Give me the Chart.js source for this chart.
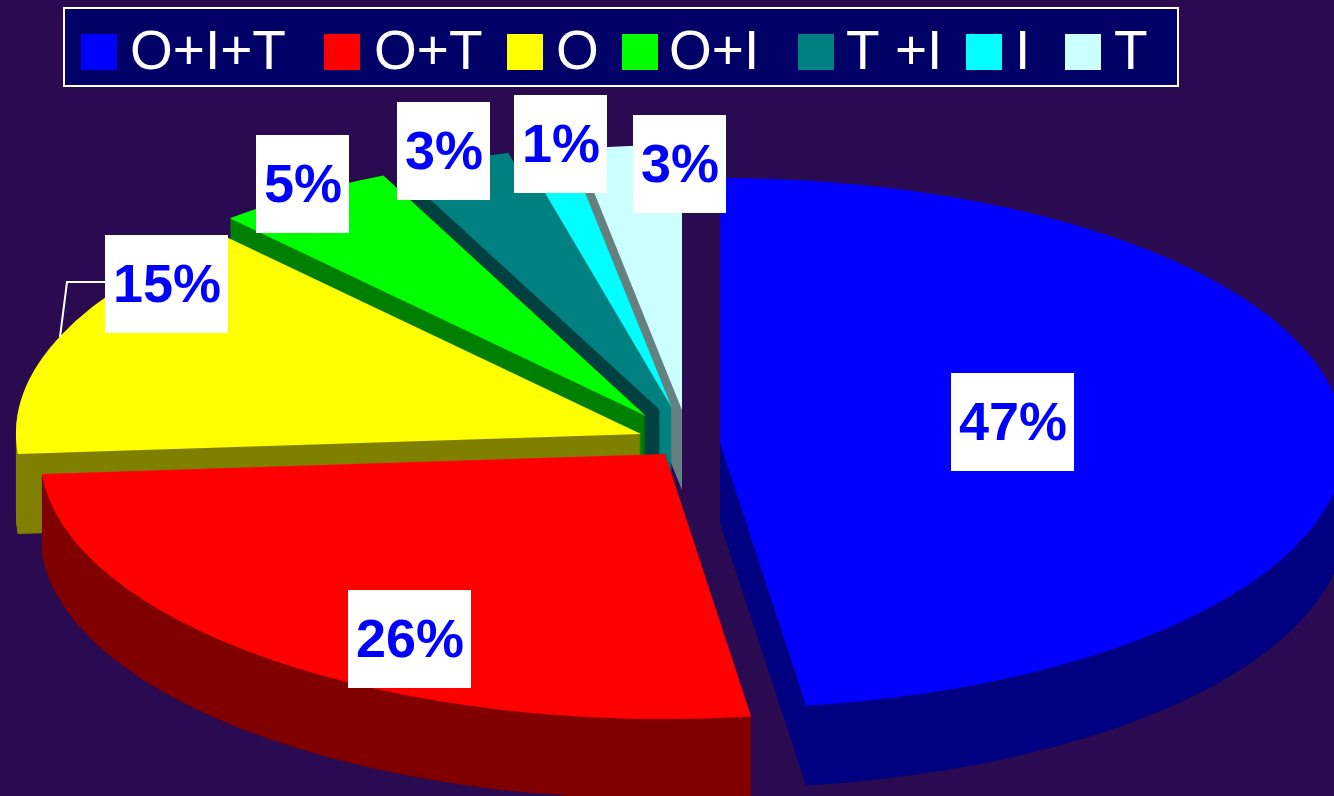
<!DOCTYPE html>
<html>
<head>
<meta charset="utf-8">
<style>html,body{margin:0;padding:0;background:#2a0a50;overflow:hidden}canvas{display:block}</style>
<script src="https://cdn.jsdelivr.net/npm/chart.js@4"></script>
</head>
<body>
<canvas id="c" width="1334" height="796"></canvas>
<script>
const categories = ['O+I+T', 'O+T', 'O', 'O+I', 'T +I', 'I', 'T'];
const sliceShares = [47.8, 26.0, 14.6, 4.7, 3.0, 1.2, 2.7];
const percentLabels = ['47%', '26%', '15%', '5%', '3%', '1%', '3%'];

// Styles
const topColors = ['#0000FF', '#FF0000', '#FFFF00', '#00FF00', '#008080', '#00FFFF', '#CCFFFF'];
const wallColors = ['#000080', '#800000', '#808000', '#008000', '#004040', '#008080', '#668080'];

// Layout (pixels)
const RX = 625, RY = 265, DEPTH = 80;
const apexX = [720, 665, 641, 646, 660, 672, 682];
const apexY = [443, 454, 434, 416, 410, 408, 410];
const paintOrder = [6, 5, 4, 3, 2, 1, 0];
const legendSwatchX = [81, 324, 507, 622, 798, 966, 1065];
const legendTextX = [131, 375, 557, 670, 847, 1016, 1115];
const labelBoxX = [951, 348, 105, 256, 397, 514, 633];
const labelBoxY = [373, 590, 235, 135, 102, 95, 115];
const labelBoxW = [123, 123, 123, 93, 93, 93, 93];
const LABEL_BOX_H = 98;

const pie3d = {
  id: 'pie3d',
  beforeDatasetsDraw(chart) {
    const ctx = chart.ctx;
    const arcs = chart.getDatasetMeta(0).data;
    paintOrder.forEach(i => {
      const arc = arcs[i];
      const sx = RX / arc.outerRadius, sy = RY / arc.outerRadius;
      const place = dy => {
        ctx.translate(apexX[i], apexY[i] + dy);
        ctx.scale(sx, sy);
        ctx.translate(-arc.x, -arc.y);
      };
      const wall = Object.create(arc);
      wall.options = Object.assign({}, arc.options, { backgroundColor: wallColors[i] });
      for (let dy = DEPTH; dy > 0; dy--) {
        ctx.save(); place(dy); wall.draw(ctx); ctx.restore();
      }
      ctx.save(); place(0); arc.draw(ctx); ctx.restore();
    });
    return false;
  },
  afterDraw(chart) {
    const ctx = chart.ctx;
    // Legend
    ctx.save();
    ctx.fillStyle = '#000066';
    ctx.fillRect(64, 8, 1114, 78);
    ctx.strokeStyle = '#FFFFFF';
    ctx.lineWidth = 2;
    ctx.strokeRect(64, 8, 1114, 78);
    ctx.font = '55px "Liberation Sans", Arial, sans-serif';
    ctx.textAlign = 'left';
    ctx.textBaseline = 'alphabetic';
    categories.forEach((name, i) => {
      ctx.fillStyle = topColors[i];
      ctx.fillRect(legendSwatchX[i], 34, 36, 36);
      ctx.fillStyle = '#FFFFFF';
      ctx.fillText(name, legendTextX[i] - 1, 69);
    });
    // Leader line for the 15% label
    ctx.strokeStyle = '#FFFFFF';
    ctx.lineWidth = 2;
    ctx.beginPath();
    ctx.moveTo(105, 282);
    ctx.lineTo(67, 282);
    ctx.lineTo(60, 337);
    ctx.stroke();
    // Value labels
    ctx.font = 'bold 54px "Liberation Sans", Arial, sans-serif';
    ctx.textAlign = 'center';
    percentLabels.forEach((text, i) => {
      ctx.fillStyle = '#FFFFFF';
      ctx.fillRect(labelBoxX[i], labelBoxY[i], labelBoxW[i], LABEL_BOX_H);
      ctx.fillStyle = '#0000FF';
      ctx.fillText(text, labelBoxX[i] + labelBoxW[i] / 2 + 0.5, labelBoxY[i] + 67);
    });
    ctx.restore();
  }
};

new Chart(document.getElementById('c'), {
  type: 'pie',
  data: {
    labels: categories,
    datasets: [{ data: sliceShares, backgroundColor: topColors, borderWidth: 0 }]
  },
  options: {
    responsive: false,
    animation: false,
    devicePixelRatio: 1,
    layout: { padding: 0 },
    plugins: { legend: { display: false }, tooltip: { enabled: false } }
  },
  plugins: [pie3d]
});
</script>
</body>
</html>
